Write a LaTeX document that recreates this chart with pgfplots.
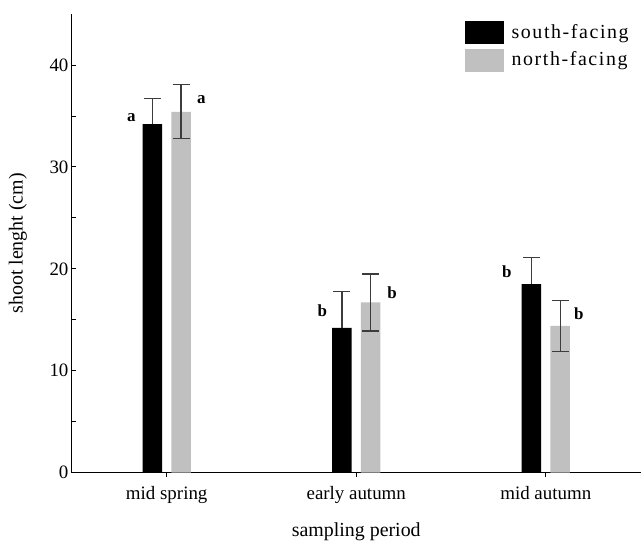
\documentclass[border=0pt]{standalone}
\usepackage{fontspec}
\setmainfont{Liberation Serif}
\newfontfamily\legfont[LetterSpace=8]{Liberation Serif}
\usepackage{pgfplots}
\pgfplotsset{compat=1.18}
\definecolor{northgray}{RGB}{192,192,192}
\definecolor{errgray}{RGB}{60,60,60}
\begin{document}
\begin{tikzpicture}
\begin{axis}[
  at={(0,0)}, anchor=south west,
  scale only axis, width=569bp, height=459bp,
  xmin=-0.5, xmax=2.5, ymin=0, ymax=45,
  axis lines=left, axis line style={-, line width=0.9bp},
  ytick={0,10,20,30,40}, minor ytick={5,15,25,35},
  xtick={0,1,2}, xticklabels={mid spring, early autumn, mid autumn},
  tick align=inside, major tick length=4bp, minor tick length=4bp,
  tick style={black, line width=0.8bp},
  /pgf/number format/assume math mode=true,
  ticklabel style={font=\fontsize{19}{21}\selectfont},
  xticklabel style={yshift=-6bp},
  ylabel={shoot lenght (cm)},
  xlabel={sampling period},
  label style={font=\fontsize{20}{22}\selectfont},
  ylabel style={at={(axis description cs:-0.095,0.5)}, anchor=center},
  xlabel style={at={(axis description cs:0.5,-0.1285)}, anchor=center},
  ybar, bar width=0.103,
  legend style={draw=none, fill=none, at={(0.685,0.99)}, anchor=north west,
    font=\legfont\fontsize{20}{22}\selectfont, row sep=5bp,
    nodes={inner sep=0bp, text depth=0.25em}},
  legend cell align=left,
  clip=false,
]
\addplot[fill=black, draw=none, bar shift=-0.0758,
  legend image code/.code={\fill[black] (0bp,-11.5bp) rectangle (39bp,11.5bp); \path (47bp,0bp);},
  error bars/.cd, y dir=plus, y explicit,
  error bar style={color=errgray, line width=1.3bp},
  error mark options={rotate=90, mark size=8.5bp, line width=1.3bp, color=errgray}]
  coordinates {(0,34.2) +- (0,2.5) (1,14.2) +- (0,3.6) (2,18.5) +- (0,2.6)};
\addlegendentry{south-facing}
\addplot[fill=northgray, draw=none, bar shift=0.0758,
  legend image code/.code={\fill[northgray] (0bp,-11.5bp) rectangle (39bp,11.5bp); \path (47bp,0bp);},
  error bars/.cd, y dir=both, y explicit,
  error bar style={color=errgray, line width=1.3bp},
  error mark options={rotate=90, mark size=8.5bp, line width=1.3bp, color=errgray}]
  coordinates {(0,35.4) +- (0,2.65) (1,16.7) +- (0,2.8) (2,14.4) +- (0,2.5)};
\addlegendentry{north-facing}
\node[font=\bfseries\fontsize{17}{17}\selectfont] at (axis cs:-0.186,34.8) {a};
\node[font=\bfseries\fontsize{17}{17}\selectfont] at (axis cs:0.183,36.6) {a};
\node[font=\bfseries\fontsize{17}{17}\selectfont] at (axis cs:0.821,15.9) {b};
\node[font=\bfseries\fontsize{17}{17}\selectfont] at (axis cs:1.189,17.7) {b};
\node[font=\bfseries\fontsize{17}{17}\selectfont] at (axis cs:1.795,19.7) {b};
\node[font=\bfseries\fontsize{17}{17}\selectfont] at (axis cs:2.174,15.6) {b};
\end{axis}
\path (-72bp,-70bp) rectangle (569bp,473bp);
\end{tikzpicture}
\end{document}
